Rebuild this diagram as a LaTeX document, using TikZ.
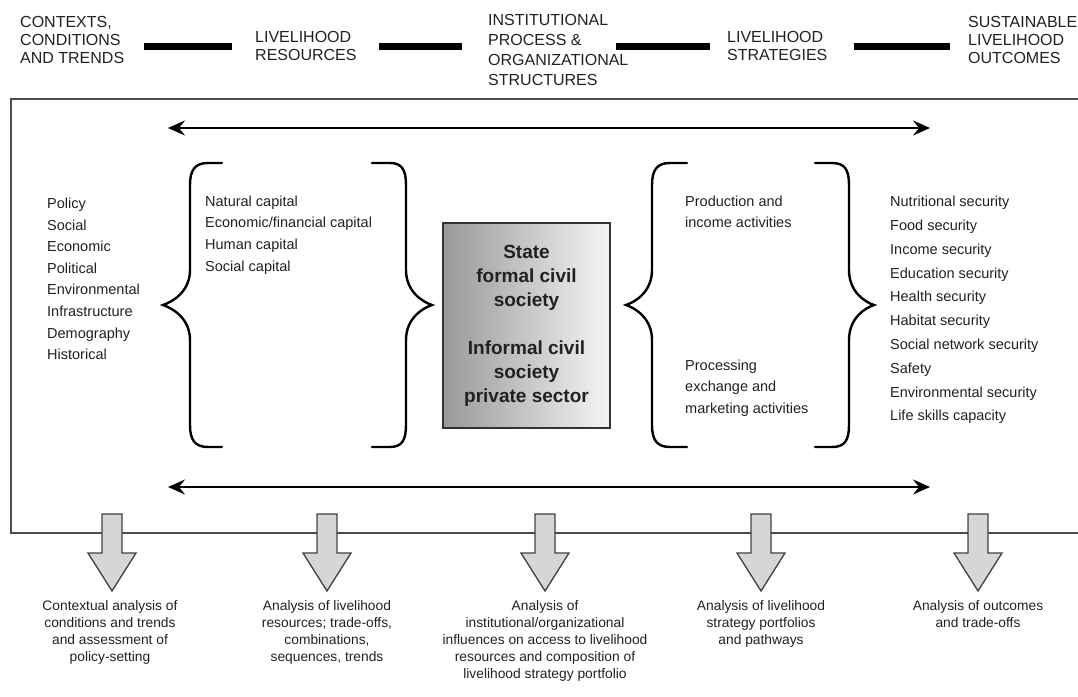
\documentclass[tikz,border=0pt]{standalone}
\usepackage{fontspec}
\setmainfont{Liberation Sans}
\usetikzlibrary{arrows.meta}
\definecolor{inkgray}{rgb}{0.13,0.13,0.13}
\definecolor{arrowfill}{rgb}{0.84,0.84,0.84}
\tikzset{
headtxt/.style={anchor=west, align=left, inner sep=0pt, text=inkgray, font=\fontsize{16}{18}\selectfont},
listtxt/.style={anchor=west, align=left, inner sep=0pt, text=inkgray, font=\fontsize{14.5}{21.6}\selectfont},
basetxt/.style={anchor=north, align=center, inner sep=0pt, text=inkgray, font=\fontsize{13.8}{17}\selectfont},
bar/.style={line width=7pt},
frame/.style={draw=black!70, line width=2.6pt},
flow/.style={line width=2pt, arrows={Stealth[length=17pt,width=15pt,inset=6pt]-Stealth[length=17pt,width=15pt,inset=6pt]}},
brace/.style={line width=2.4pt, line cap=round},
downarrow/.style={draw=black!75, line width=1.3pt, fill=arrowfill, line join=miter},
corebox/.style={draw=black!80, line width=1.6pt, minimum width=167pt, minimum height=205pt, left color=black!40, right color=black!4, align=center, inner sep=0pt, text=inkgray, font=\bfseries\fontsize{19}{24}\selectfont}
}
\begin{document}
\begin{tikzpicture}[x=1pt,y=1pt,yscale=-1,xscale=1]
\useasboundingbox (0,0) rectangle (1078,696);

%Text Node: header
\node[headtxt] (ctx) at (20,40) {CONTEXTS,\\CONDITIONS\\AND TRENDS};
\node[headtxt] (res) at (255,46) {LIVELIHOOD\\RESOURCES};
\node[headtxt, font=\fontsize{16}{20}\selectfont] (inst) at (488,50) {INSTITUTIONAL\\PROCESS \&\\ORGANIZATIONAL\\STRUCTURES};
\node[headtxt] (strat) at (727,46) {LIVELIHOOD\\STRATEGIES};
\node[headtxt] (sust) at (968,40) {SUSTAINABLE\\LIVELIHOOD\\OUTCOMES};

%Straight Lines: header bars (yshift is flipped by yscale=-1)
\draw[bar, shorten <=20pt, shorten >=23pt] ([yshift=6pt]ctx.east) -- (res.west);
\draw[bar, shorten <=22pt, shorten >=26pt] (res.east) -- ([yshift=-4pt]inst.west);
\draw[bar, shorten <=-13pt, shorten >=17pt] ([yshift=-4pt]inst.east) -- (strat.west);
\draw[bar, shorten <=26pt, shorten >=18pt] (strat.east) -- ([yshift=6pt]sust.west);

%Shape: open frame
\draw[frame] (1078,99) -- (11,99) -- (11,533) -- (1078,533);

%Straight Lines: double arrows
\coordinate (topL) at (168,128);
\coordinate (topR) at (930,128);
\coordinate (botL) at (168,487);
\coordinate (botR) at (930,487);
\draw[flow] (topL) -- (topR);
\draw[flow] (botL) -- (botR);

%Shape: Brace left {
\draw[brace] (222,163) -- (208,163) .. controls (195,163) and (190,170) .. (190,185) -- (190,270) .. controls (190,292) and (172,302) .. (163,305) .. controls (172,308) and (190,318) .. (190,340) -- (190,425) .. controls (190,440) and (195,447) .. (208,447) -- (222,447);
%Shape: Brace right }
\draw[brace] (372,163) -- (390,163) .. controls (402,163) and (406,170) .. (406,185) -- (406,270) .. controls (406,292) and (423,302) .. (432,305) .. controls (423,308) and (406,318) .. (406,340) -- (406,425) .. controls (406,440) and (402,447) .. (390,447) -- (372,447);
%Shape: Brace left {
\draw[brace] (687,163) -- (670,163) .. controls (657,163) and (652,170) .. (652,185) -- (652,270) .. controls (652,292) and (635,302) .. (626,305) .. controls (635,308) and (652,318) .. (652,340) -- (652,425) .. controls (652,440) and (657,447) .. (670,447) -- (687,447);
%Shape: Brace right }
\draw[brace] (815,163) -- (832,163) .. controls (845,163) and (849,170) .. (849,185) -- (849,270) .. controls (849,292) and (865,302) .. (874,305) .. controls (865,308) and (849,318) .. (849,340) -- (849,425) .. controls (849,440) and (845,447) .. (832,447) -- (815,447);

%Text Node: lists
\node[listtxt] (ctxlist) at (47,279) {Policy\\Social\\Economic\\Political\\Environmental\\Infrastructure\\Demography\\Historical};
\node[listtxt] (reslist) at (205,235) {Natural capital\\Economic/financial capital\\Human capital\\Social capital};
\node[listtxt] (prodtxt) at (685,212) {Production and\\income activities};
\node[listtxt] (proctxt) at (685,388) {Processing\\exchange and\\marketing activities};
\node[listtxt, font=\fontsize{14.5}{23.8}\selectfont] (outlist) at (890,310) {Nutritional security\\Food security\\Income security\\Education security\\Health security\\Habitat security\\Social network security\\Safety\\Environmental security\\Life skills capacity};

%Shape: Rectangle centre
\node[corebox] (core) at (526.5,325.5) {State\\formal civil\\society\\[24pt]Informal civil\\society\\private sector};

%Shape: Down Arrow
\draw[downarrow] (102,514) -- (122,514) -- (122,553) -- (136,553) -- (112,591) -- (88,553) -- (102,553) -- cycle;
%Shape: Down Arrow
\draw[downarrow] (317,514) -- (337,514) -- (337,553) -- (351,553) -- (327,591) -- (303,553) -- (317,553) -- cycle;
%Shape: Down Arrow
\draw[downarrow] (535,514) -- (555,514) -- (555,553) -- (569,553) -- (545,591) -- (521,553) -- (535,553) -- cycle;
%Shape: Down Arrow
\draw[downarrow] (751,514) -- (771,514) -- (771,553) -- (785,553) -- (761,591) -- (737,553) -- (751,553) -- cycle;
%Shape: Down Arrow
\draw[downarrow] (968,514) -- (988,514) -- (988,553) -- (1002,553) -- (978,591) -- (954,553) -- (968,553) -- cycle;

%Text Node: analyses
\node[basetxt] (ctxan) at (110,600) {Contextual analysis of\\conditions and trends\\and assessment of\\policy-setting};
\node[basetxt] (resan) at (327,600) {Analysis of livelihood\\resources; trade-offs,\\combinations,\\sequences, trends};
\node[basetxt] (instan) at (545,600) {Analysis of\\institutional/organizational\\influences on access to livelihood\\resources and composition of\\livelihood strategy portfolio};
\node[basetxt] (stratan) at (761,600) {Analysis of livelihood\\strategy portfolios\\and pathways};
\node[basetxt] (sustan) at (978,600) {Analysis of outcomes\\and trade-offs};

\end{tikzpicture}
\end{document}
